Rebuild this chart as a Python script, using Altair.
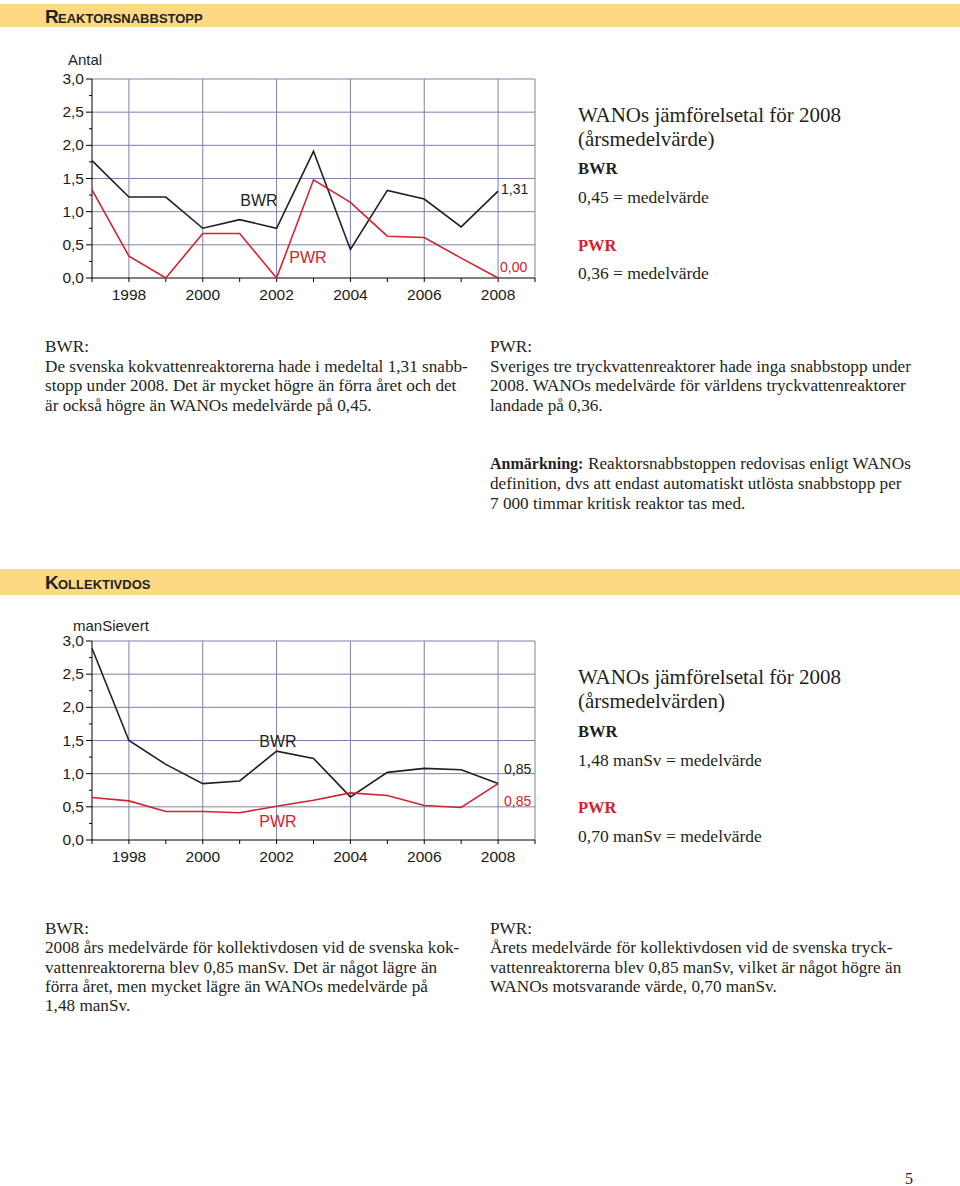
import altair as alt
import pandas as pd

# ---------------- data ----------------
years = list(range(1997, 2009))
scram_bwr = [1.77, 1.22, 1.22, 0.75, 0.88, 0.75, 1.91, 0.43, 1.32, 1.19, 0.77, 1.31]
scram_pwr = [1.33, 0.33, 0.00, 0.67, 0.67, 0.00, 1.48, 1.14, 0.63, 0.61, 0.30, 0.00]
dose_bwr = [2.89, 1.50, 1.14, 0.85, 0.89, 1.34, 1.23, 0.65, 1.02, 1.08, 1.06, 0.85]
dose_pwr = [0.64, 0.59, 0.43, 0.43, 0.41, 0.51, 0.60, 0.71, 0.67, 0.52, 0.49, 0.85]
series_names = ["BWR", "PWR"]
x_tick_years = list(range(1997, 2010))
x_label_years = [1998, 2000, 2002, 2004, 2006, 2008]
x_grid_years = [1998, 2000, 2002, 2004, 2006, 2008, 2009]
y_major_ticks = [0.0, 0.5, 1.0, 1.5, 2.0, 2.5, 3.0]
y_minor_ticks = [0.25, 0.75, 1.25, 1.75, 2.25, 2.75]
y_grid_values = [0.5, 1.0, 1.5, 2.0, 2.5, 3.0]
x_domain = [1997, 2009]
y_domain = [0, 3]

# ---------------- styles ----------------
SERIF = "Liberation Serif"
SANS = "Liberation Sans"
HEAD = "Liberation Sans"
DARK = "#231f20"
RED = "#d2232e"
GRID = "#7f80ad"
BAND = "#fdd983"
W, H = 960, 1186
BODY = 17.2
TICKFONT = 15.5

blank = alt.Data(values=[{}])


def txt(s, x, y, size=BODY, font=SERIF, weight="normal", color=DARK,
        align="left", baseline="alphabetic", lh=None):
    mk = dict(text=s, fontSize=size, font=font, fontWeight=weight,
              color=color, align=align, baseline=baseline)
    if lh is not None:
        mk["lineHeight"] = lh
    return alt.Chart(blank).mark_text(**mk).encode(
        x=alt.value(x), y=alt.value(y))


def band(y0, y1):
    return alt.Chart(blank).mark_rect(color=BAND).encode(
        x=alt.value(0), x2=alt.value(W), y=alt.value(y0), y2=alt.value(y1))


def long_df(bwr, pwr):
    rows = []
    for name, vals in zip(series_names, [bwr, pwr]):
        for yr, v in zip(years, vals):
            rows.append({"year": yr, "value": v, "series": name})
    return pd.DataFrame(rows)


def make_plot(bwr, pwr, y_range, label_offsets):
    xs = alt.Scale(domain=x_domain, range=[92, 535], nice=False, zero=False)
    ys = alt.Scale(domain=y_domain, range=y_range, nice=False)
    x0, x1 = x_domain
    y0, y1 = y_domain

    def X(f):
        return alt.X(f, scale=xs, axis=None)

    def Y(f):
        return alt.Y(f, scale=ys, axis=None)

    color = alt.Color("series:N", scale=alt.Scale(domain=series_names, range=[DARK, RED]),
                      legend=None)

    vgrid = alt.Chart(pd.DataFrame({"g": x_grid_years})).mark_rule(
        color=GRID, strokeWidth=1).encode(
        x=X("g:Q"), y=alt.YDatum(y0, axis=None), y2=alt.Y2Datum(y1))
    hgrid = alt.Chart(pd.DataFrame({"g": y_grid_values})).mark_rule(
        color=GRID, strokeWidth=1).encode(
        y=Y("g:Q"), x=alt.XDatum(x0, axis=None), x2=alt.X2Datum(x1))

    # axis lines
    y_line = alt.Chart(blank).mark_rule(color="#000", strokeWidth=1).encode(
        x=alt.XDatum(x0, axis=None), y=alt.YDatum(y0, axis=None), y2=alt.Y2Datum(y1))
    x_line = alt.Chart(blank).mark_rule(color="#000", strokeWidth=1).encode(
        y=alt.YDatum(y0, axis=None), x=alt.XDatum(x0, axis=None), x2=alt.X2Datum(x1))
    # ticks
    y_major = alt.Chart(pd.DataFrame({"t": y_major_ticks})).mark_rule(
        color="#000", x2Offset=-6).encode(
        y=Y("t:Q"), x=alt.XDatum(x0, axis=None), x2=alt.X2Datum(x0))
    y_minor = alt.Chart(pd.DataFrame({"t": y_minor_ticks})).mark_rule(
        color="#000", x2Offset=-3).encode(
        y=Y("t:Q"), x=alt.XDatum(x0, axis=None), x2=alt.X2Datum(x0))
    x_ticks = alt.Chart(pd.DataFrame({"t": x_tick_years})).mark_rule(
        color="#000", y2Offset=4).encode(
        x=X("t:Q"), y=alt.YDatum(y0, axis=None), y2=alt.Y2Datum(y0))
    # tick labels
    y_labels = alt.Chart(pd.DataFrame({"t": y_major_ticks})).transform_calculate(
        lab="replace(format(datum.t, '.1f'), '.', ',')"
    ).mark_text(font=SANS, fontSize=TICKFONT, color="#1a1a1a", align="right",
                baseline="middle", dx=-8).encode(
        y=Y("t:Q"), x=alt.XDatum(x0, axis=None), text="lab:N")
    x_labels = alt.Chart(pd.DataFrame({"t": x_label_years})).mark_text(
        font=SANS, fontSize=TICKFONT, color="#1a1a1a", align="center",
        baseline="middle", dy=17).encode(
        x=X("t:Q"), y=alt.YDatum(y0, axis=None),
        text=alt.Text("t:Q", format="d"))

    df = long_df(bwr, pwr)
    lines = alt.Chart(df).mark_line(strokeWidth=1.6).encode(
        x=X("year:Q"), y=Y("value:Q"), color=color)
    layers = [vgrid, hgrid, x_line, y_line, y_major, y_minor, x_ticks,
              y_labels, x_labels, lines]
    for name, (dx, dy), col in zip(series_names, label_offsets, [DARK, RED]):
        lab = alt.Chart(df).transform_filter(
            f"datum.year == {years[-1]} && datum.series == '{name}'"
        ).transform_calculate(
            lab="replace(format(datum.value, '.2f'), '.', ',')"
        ).mark_text(font=SANS, fontSize=14, color=col, align="left",
                    baseline="middle", dx=dx, dy=dy).encode(
            x=X("year:Q"), y=Y("value:Q"), text="lab:N")
        layers.append(lab)
    return alt.layer(*layers)


plot1 = make_plot(scram_bwr, scram_pwr, [278, 79], [(3, -1), (2, -10)])
plot2 = make_plot(dose_bwr, dose_pwr, [840, 641], [(6, -14), (6, 18)])

items = [
    band(4, 27),
    txt("R", 45, 23, size=19, font=HEAD, weight="bold"),
    txt("EAKTORSNABBSTOPP", 58, 23, size=13, font=HEAD, weight="bold"),
    txt("Antal", 68, 60, size=15, font=SANS, baseline="middle"),
    plot1,
    txt("BWR", 259, 201, size=16, font=SANS, align="center", baseline="middle"),
    txt("PWR", 308, 258, size=16, font=SANS, color=RED, align="center", baseline="middle"),
    txt(["WANOs jämförelsetal för 2008", "(årsmedelvärde)"], 578, 122, size=21, lh=24),
    txt("BWR", 578, 174, size=16.5, weight="bold"),
    txt("0,45 = medelvärde", 578, 203, size=17.5),
    txt("PWR", 578, 251, size=16.5, weight="bold", color=RED),
    txt("0,36 = medelvärde", 578, 279, size=17.5),
    txt(["BWR:",
         "De svenska kokvattenreaktorerna hade i medeltal 1,31 snabb-",
         "stopp under 2008. Det är mycket högre än förra året och det",
         "är också högre än WANOs medelvärde på 0,45."], 45, 352, lh=19.5),
    txt(["PWR:",
         "Sveriges tre tryckvattenreaktorer hade inga snabbstopp under",
         "2008. WANOs medelvärde för världens tryckvattenreaktorer",
         "landade på 0,36."], 490, 352, lh=19.5),
    txt("Anmärkning:", 490, 469, size=16, weight="bold"),
    txt("Reaktorsnabbstoppen redovisas enligt WANOs", 588, 469),
    txt(["definition, dvs att endast automatiskt utlösta snabbstopp per",
         "7 000 timmar kritisk reaktor tas med."], 490, 489, lh=20),
    band(569, 595),
    txt("K", 45, 589, size=19, font=HEAD, weight="bold"),
    txt("OLLEKTIVDOS", 58, 589, size=13, font=HEAD, weight="bold"),
    txt("manSievert", 73, 626, size=15, font=SANS, baseline="middle"),
    plot2,
    txt("BWR", 278, 742, size=16, font=SANS, align="center", baseline="middle"),
    txt("PWR", 278, 822, size=16, font=SANS, color=RED, align="center", baseline="middle"),
    txt(["WANOs jämförelsetal för 2008", "(årsmedelvärden)"], 578, 684, size=21, lh=24),
    txt("BWR", 578, 737, size=16.5, weight="bold"),
    txt("1,48 manSv = medelvärde", 578, 766, size=17.5),
    txt("PWR", 578, 813, size=16.5, weight="bold", color=RED),
    txt("0,70 manSv = medelvärde", 578, 842, size=17.5),
    txt(["BWR:",
         "2008 års medelvärde för kollektivdosen vid de svenska kok-",
         "vattenreaktorerna blev 0,85 manSv. Det är något lägre än",
         "förra året, men mycket lägre än WANOs medelvärde på",
         "1,48 manSv."], 45, 934, lh=19.3),
    txt(["PWR:",
         "Årets medelvärde för kollektivdosen vid de svenska tryck-",
         "vattenreaktorerna blev 0,85 manSv, vilket är något högre än",
         "WANOs motsvarande värde, 0,70 manSv."], 490, 934, lh=19.3),
    txt("5", 909, 1184, size=16, align="center"),
]

chart = alt.layer(*items).resolve_scale(
    x="independent", y="independent"
).properties(
    width=W, height=H, padding=0,
    autosize=alt.AutoSizeParams(type="none"),
    background="white",
).configure_view(stroke=None)

chart.save("out.html", embed_options={"renderer": "svg", "actions": False})
